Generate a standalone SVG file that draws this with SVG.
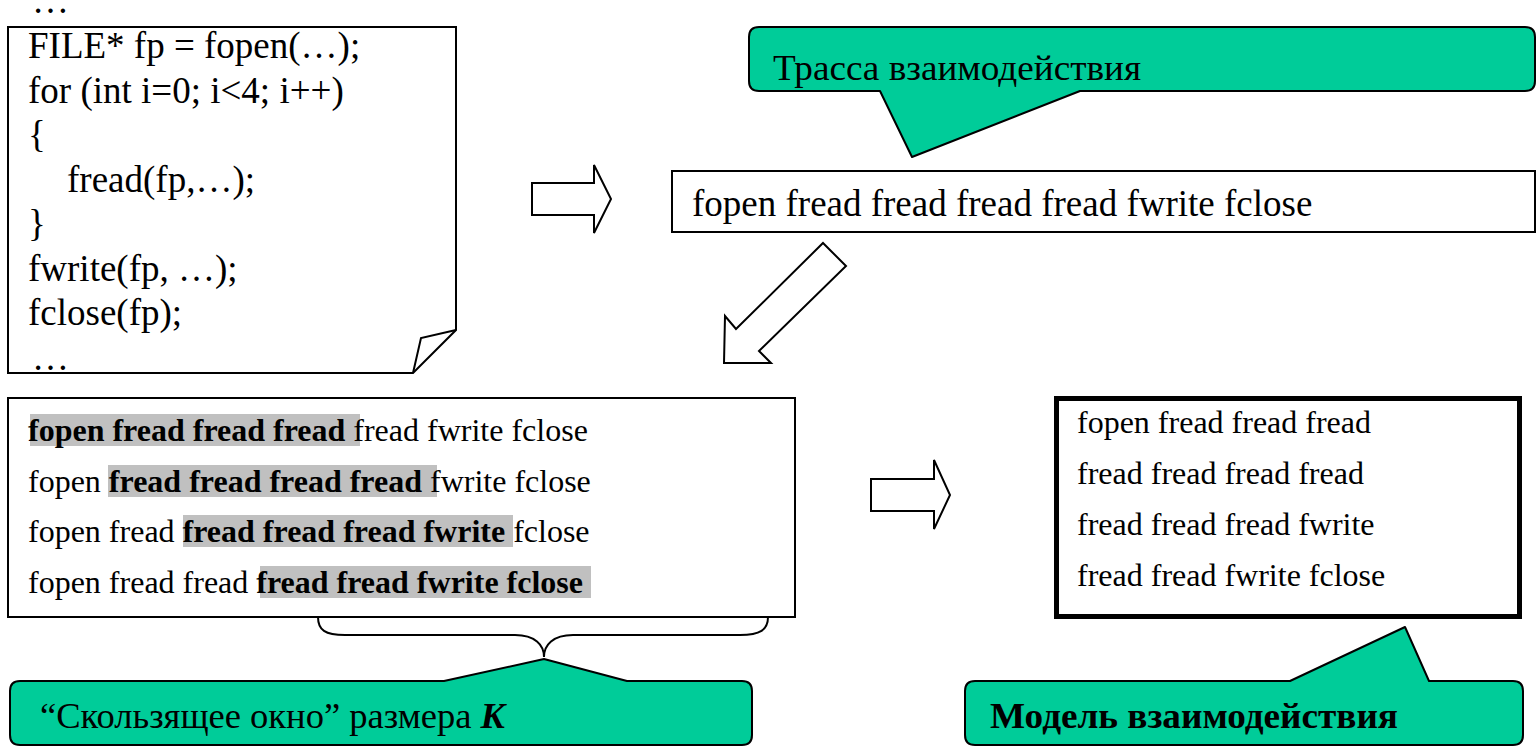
<svg xmlns="http://www.w3.org/2000/svg" width="1537" height="750" viewBox="0 0 1537 750">
  <style>
    .serif { font-family: "Liberation Serif", "Times New Roman", serif; fill: #000; }
    .code { font-size: 37px; }
    .row { font-size: 32px; }
    .b { font-weight: bold; }
    .box { fill: #fff; stroke: #000; stroke-width: 2; }
    .callout { fill: #00CC99; stroke: #000; stroke-width: 2; stroke-linejoin: round; }
    .arrow { fill: #fff; stroke: #000; stroke-width: 2; stroke-linejoin: miter; }
    .hl { fill: #C0C0C0; }
  </style>

  <!-- Source code fragment (page with folded corner) -->
  <g id="source-code">
    <path class="box" d="M8,27 H456 V330 L413,373 H8 Z"/>
    <path fill="none" stroke="#000" stroke-width="2" d="M413,373 L421,338 L456,330"/>
    <text class="serif code" x="32" y="13">…</text>
    <text class="serif code" x="28" y="58">FILE* fp = fopen(…);</text>
    <text class="serif code" x="28" y="102.5">for (int i=0; i&lt;4; i++)</text>
    <text class="serif code" x="28" y="147">{</text>
    <text class="serif code" x="67" y="191.5">fread(fp,…);</text>
    <text class="serif code" x="28" y="236">}</text>
    <text class="serif code" x="28" y="280.5">fwrite(fp, …);</text>
    <text class="serif code" x="28" y="325">fclose(fp);</text>
    <text class="serif code" x="32" y="370">…</text>
  </g>

  <!-- Interaction trace -->
  <g id="trace">
    <rect class="box" x="672" y="171" width="863" height="61"/>
    <text class="serif code" x="692" y="216">fopen fread fread fread fread fwrite fclose</text>
  </g>

  <!-- Callout: trace label -->
  <g id="callout-trace">
    <path class="callout" d="M759,27 H1525 Q1535,27 1535,37 V81 Q1535,91 1525,91 H1080 L912,157 L880,91 H759 Q749,91 749,81 V37 Q749,27 759,27 Z"/>
    <text class="serif" font-size="36" x="773" y="80" textLength="368" lengthAdjust="spacingAndGlyphs">Трасса взаимодействия</text>
  </g>

  <!-- Sliding window over the trace -->
  <g id="sliding-window">
    <rect class="box" x="8" y="398" width="787" height="219"/>
    <rect class="hl" x="30" y="414" width="330" height="32"/>
    <rect class="hl" x="108" y="465" width="329" height="32"/>
    <rect class="hl" x="183" y="515" width="330" height="32"/>
    <rect class="hl" x="260" y="566" width="331" height="32"/>
    <text class="serif row" x="28" y="441"><tspan class="b">fopen fread fread fread</tspan> fread fwrite fclose</text>
    <text class="serif row" x="28" y="492">fopen <tspan class="b">fread fread fread fread</tspan> fwrite fclose</text>
    <text class="serif row" x="28" y="542">fopen fread <tspan class="b">fread fread fread fwrite</tspan> fclose</text>
    <text class="serif row" x="28" y="593">fopen fread fread <tspan class="b">fread fread fwrite fclose</tspan></text>
  </g>

  <!-- Interaction model -->
  <g id="model">
    <rect x="1056.5" y="398.5" width="463" height="218" fill="#fff" stroke="#000" stroke-width="5"/>
    <text class="serif row" x="1077" y="433">fopen fread fread fread</text>
    <text class="serif row" x="1077" y="484">fread fread fread fread</text>
    <text class="serif row" x="1077" y="535">fread fread fread fwrite</text>
    <text class="serif row" x="1077" y="586">fread fread fwrite fclose</text>
  </g>

  <!-- Callout: window label -->
  <g id="callout-window">
    <path class="callout" d="M20,681 H444 L544,659 L627,681 H742 Q752,681 752,691 V735 Q752,745 742,745 H20 Q10,745 10,735 V691 Q10,681 20,681 Z"/>
    <text class="serif" font-size="36" x="40" y="728" textLength="465" lengthAdjust="spacingAndGlyphs">“Скользящее окно” размера <tspan font-weight="bold" font-style="italic">K</tspan></text>
  </g>

  <!-- Callout: model label -->
  <g id="callout-model">
    <path class="callout" d="M975,681 H1290 L1405,627 L1429,681 H1513 Q1523,681 1523,691 V735 Q1523,745 1513,745 H975 Q965,745 965,735 V691 Q965,681 975,681 Z"/>
    <text class="serif b" font-size="36" x="990" y="728" textLength="408" lengthAdjust="spacingAndGlyphs">Модель взаимодействия</text>
  </g>

  <!-- Connectors: block arrows between stages, window brace -->
  <g id="connectors">
    <polygon class="arrow" points="532,183 594,183 594,165 611,199 594,233 594,215 532,215"/>
    <polygon class="arrow" points="823,243 846,266 759,351 771,363 724,363 725,316 736,329"/>
    <polygon class="arrow" points="871,479 934,479 934,460 950,495 934,529 934,511 871,511"/>
    <path fill="none" stroke="#000" stroke-width="2" d="M318,617 C318,630 325,635 345,635 H515 C535,635 544,645 544,657 C544,645 553,635 573,635 H740 C760,635 768,630 768,617"/>
  </g>
</svg>
